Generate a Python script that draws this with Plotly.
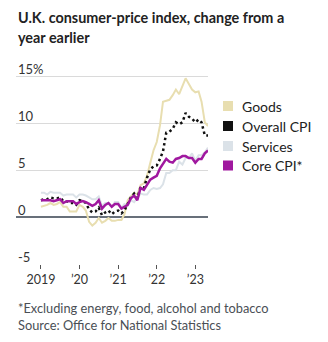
import pandas as pd
import plotly.graph_objects as go

months = pd.date_range("2019-01-01", "2023-05-01", freq="MS")

overall = [1.8, 1.9, 1.9, 2.1, 2.0, 2.0, 2.1, 1.7, 1.7, 1.5, 1.5, 1.3,
           1.8, 1.7, 1.5, 0.8, 0.5, 0.6, 1.0, 0.2, 0.5, 0.7, 0.3, 0.6,
           0.7, 0.4, 0.7, 1.5, 2.1, 2.5, 2.0, 3.2, 3.1, 4.2, 5.1, 5.4,
           5.5, 6.2, 7.0, 9.0, 9.1, 9.4, 10.1, 9.9, 10.1, 11.1, 10.7, 10.5,
           10.1, 10.4, 10.1, 8.7, 8.7]

core = [1.8, 1.8, 1.8, 1.8, 1.7, 1.8, 1.9, 1.5, 1.7, 1.7, 1.7, 1.4,
        1.6, 1.7, 1.6, 1.4, 1.2, 1.4, 1.8, 0.9, 1.3, 1.5, 1.1, 1.4,
        1.4, 0.9, 1.1, 1.3, 2.0, 2.3, 1.8, 3.1, 2.9, 3.4, 4.0, 4.2,
        4.4, 5.2, 5.7, 6.2, 5.9, 5.8, 6.2, 6.3, 6.5, 6.5, 6.3, 6.3,
        5.8, 6.2, 6.2, 6.8, 7.1]

services = [2.6, 2.6, 2.4, 2.7, 2.6, 2.6, 2.6, 2.3, 2.4, 2.4, 2.4, 2.1,
            2.4, 2.4, 2.3, 2.1, 1.9, 1.9, 2.2, 1.2, 1.5, 1.5, 1.1, 1.6,
            1.6, 1.0, 1.4, 1.2, 1.8, 1.6, 2.0, 2.5, 2.4, 2.4, 2.9, 3.1,
            3.0, 3.1, 3.5, 4.7, 4.7, 5.0, 5.0, 5.9, 5.6, 6.3, 6.3, 6.8,
            6.0, 6.6, 6.6, 6.9, 7.4]

goods = [1.1, 1.2, 1.3, 1.5, 1.3, 1.4, 1.6, 1.1, 1.1, 0.6, 0.6, 0.6,
         1.3, 1.1, 0.7, -0.5, -0.9, -0.6, -0.1, -0.6, -0.4, -0.1, -0.4, -0.4,
         -0.3, -0.3, 0.3, 1.8, 2.2, 2.6, 2.4, 3.4, 3.6, 4.4, 5.8, 7.1,
         8.0, 9.8, 12.3, 12.4, 12.5, 13.0, 13.6, 13.1, 13.9, 14.8, 14.2, 13.6,
         13.3, 13.4, 12.3, 10.1, 9.7]

y_ticks = [-5, 0, 5, 10, 15]
y_tick_labels = ["-5", "0", "5", "10", "15%"]
x_ticks = ["2019-01-01", "2020-01-01", "2021-01-01", "2022-01-01", "2023-01-01"]
x_tick_labels = ["2019", "\u201920", "\u201921", "\u201922", "\u201923"]

series_names = ["Goods", "Overall CPI", "Services", "Core CPI*"]
colors = {"Goods": "#e8deb0", "Overall CPI": "#111111",
          "Services": "#dbe2e8", "Core CPI*": "#a0189f"}

W, H = 328, 342
ML, MR, MT, MB = 16, 120, 67, 78
plot_h = H - MT - MB
plot_w = W - ML - MR


def py(p):
    return (H - MB - p) / plot_h


def px(p):
    return (p - ML) / plot_w


FONT = "Lato"

fig = go.Figure()
fig.add_trace(go.Scatter(x=months, y=goods, mode="lines", name="Goods",
                         line=dict(color=colors["Goods"], width=2)))
fig.add_trace(go.Scatter(x=months, y=services, mode="lines", name="Services",
                         line=dict(color=colors["Services"], width=2)))
fig.add_trace(go.Scatter(x=months, y=overall, mode="lines", name="Overall CPI",
                         line=dict(color=colors["Overall CPI"], width=2.5, dash="2.5px,3px")))
fig.add_trace(go.Scatter(x=months, y=core, mode="lines", name="Core CPI*",
                         line=dict(color=colors["Core CPI*"], width=2.5)))

annotations = [
    dict(text="<b>U.K. consumer-price index, change from a</b>", x=px(16), y=py(17.5),
         font=dict(size=14.4, color="#222222", family=FONT)),
    dict(text="<b>year earlier</b>", x=px(16), y=py(38),
         font=dict(size=14.4, color="#222222", family=FONT)),
    dict(text="*Excluding energy, food, alcohol and tobacco", x=px(16), y=py(307.5),
         font=dict(size=12.8, color="#4a4f55", family=FONT)),
    dict(text="Source: Office for National Statistics", x=px(16), y=py(324.5),
         font=dict(size=12.8, color="#4a4f55", family=FONT)),
]
for a in annotations:
    a.update(xref="paper", yref="paper", xanchor="left", yanchor="middle",
             showarrow=False)

# y-axis tick labels sit above their gridlines, left-aligned (WSJ style)
for v, lab in zip(y_ticks, y_tick_labels):
    annotations.append(dict(text=lab, x=0, y=v, xref="paper", yref="y",
                            xanchor="left", yanchor="middle", yshift=7.5,
                            showarrow=False,
                            font=dict(size=13, color="#333333", family=FONT)))

shapes = []
leg_y = [106, 126, 146, 165.5]
for name, yy in zip(series_names, leg_y):
    shapes.append(dict(type="rect", xref="paper", yref="paper",
                       x0=px(223), x1=px(233), y0=py(yy - 5), y1=py(yy + 5),
                       fillcolor=colors[name], line=dict(width=0)))
    annotations.append(dict(text=name, x=px(240), y=py(yy), xref="paper", yref="paper",
                            xanchor="left", yanchor="middle", showarrow=False,
                            font=dict(size=14, color="#222222", family=FONT)))

fig.update_layout(
    width=W, height=H,
    margin=dict(l=ML, r=MR, t=MT, b=MB),
    paper_bgcolor="white", plot_bgcolor="white",
    showlegend=False,
    annotations=annotations,
    shapes=shapes,
    font=dict(family=FONT, size=12, color="#333333"),
    xaxis=dict(
        range=["2018-05-10", "2023-05-01"],
        tickvals=x_ticks, ticktext=x_tick_labels,
        ticks="outside", ticklen=4, tickcolor="#555555", tickwidth=1,
        showgrid=False, zeroline=False, showline=False,
        tickfont=dict(size=12.5, color="#333333", family=FONT),
        fixedrange=True,
    ),
    yaxis=dict(
        range=[-5, 16],
        tickvals=y_ticks,
        showticklabels=False,
        showgrid=True, gridcolor="#dadada", gridwidth=1,
        zeroline=True, zerolinecolor="#68707a", zerolinewidth=1.8,
        showline=False, ticks="",
        fixedrange=True,
    ),
)

fig.write_html("out.html")
